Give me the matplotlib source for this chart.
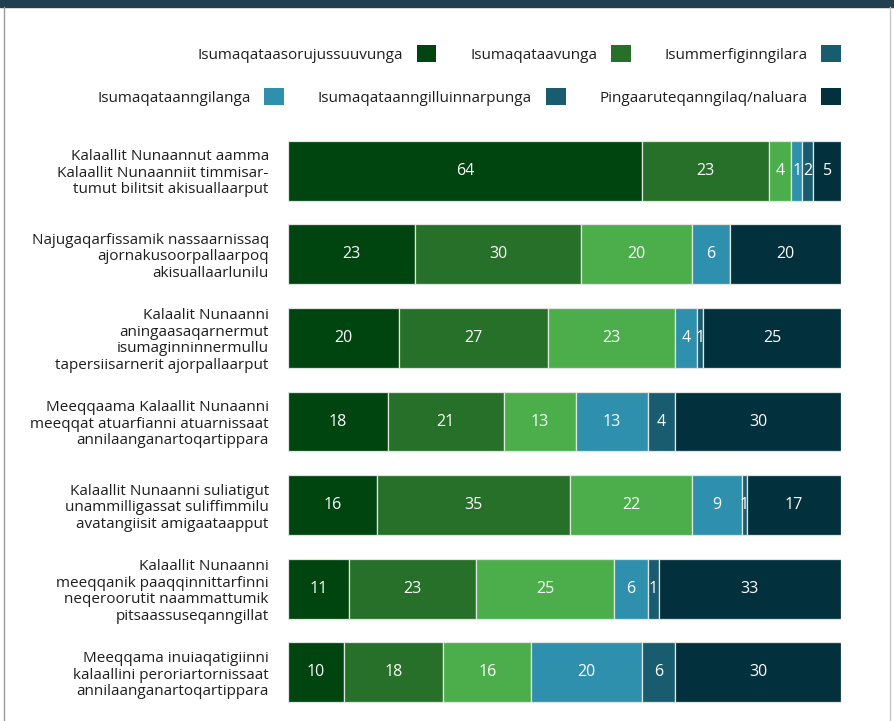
import matplotlib
matplotlib.use("Agg")
import matplotlib.pyplot as plt
from matplotlib.patches import Patch, Rectangle
from matplotlib.lines import Line2D
import numpy as np

categories = [
    "Kalaallit Nunaannut aamma\nKalaallit Nunaanniit timmisar-\ntumut bilitsit akisuallaarput",
    "Najugaqarfissamik nassaarnissaq\najornakusoorpallaarpoq\nakisuallaarlunilu",
    "Kalaalit Nunaanni\naningaasaqarnermut\nisumaginninnermullu\ntapersiisarnerit ajorpallaarput",
    "Meeqqaama Kalaallit Nunaanni\nmeeqqat atuarfianni atuarnissaat\nannilaanganartoqartippara",
    "Kalaallit Nunaanni suliatigut\nunammilligassat suliffimmilu\navatangiisit amigaataapput",
    "Kalaallit Nunaanni\nmeeqqanik paaqqinnittarfinni\nneqeroorutit naammattumik\npitsaassuseqanngillat",
    "Meeqqama inuiaqatigiinni\nkalaallini peroriartornissaat\nannilaanganartoqartippara",
]

series = [
    "Isumaqataasorujussuuvunga",
    "Isumaqataavunga",
    "Isummerfiginngilara",
    "Isumaqataanngilanga",
    "Isumaqataanngilluinnarpunga",
    "Pingaaruteqanngilaq/naluara",
]

# segment widths (%) per series, one entry per category
s1 = [64, 23, 20, 18, 16, 11, 10]
s2 = [23, 30, 27, 21, 35, 23, 18]
s3 = [4, 20, 23, 13, 22, 25, 16]
s4 = [2, 7, 4, 13, 9, 6, 20]
s5 = [2, 0, 1, 5, 1, 2, 6]
s6 = [5, 20, 25, 30, 17, 33, 30]

# printed labels
l1 = ["64", "23", "20", "18", "16", "11", "10"]
l2 = ["23", "30", "27", "21", "35", "23", "18"]
l3 = ["4", "20", "23", "13", "22", "25", "16"]
l4 = ["1", "6", "4", "13", "9", "6", "20"]
l5 = ["2", "", "1", "4", "1", "1", "6"]
l6 = ["5", "20", "25", "30", "17", "33", "30"]

values = [s1, s2, s3, s4, s5, s6]
labels = [l1, l2, l3, l4, l5, l6]

bar_colors = ["#00440f", "#267029", "#4bae4b", "#2f90ad", "#1a5c6f", "#03303d"]
legend_colors = ["#00440f", "#267029", "#1a5c6f", "#2f90ad", "#1a5c6f", "#03303d"]

FONT = "Open Sans"
plt.rcParams["font.family"] = [FONT, "DejaVu Sans"]

W, H = 894, 721
fig = plt.figure(figsize=(W / 100, H / 100), dpi=100)

# frame decorations
fig.patches.append(Rectangle((0, 1 - 7 / H), 1, 7 / H, transform=fig.transFigure,
                             color="#213f4e", zorder=0))
fig.lines.append(Line2D([3.5 / W, 3.5 / W], [0, 1 - 7 / H], transform=fig.transFigure,
                        color="#9a9a9a", lw=1))
fig.lines.append(Line2D([889.5 / W, 889.5 / W], [0, 1 - 7 / H], transform=fig.transFigure,
                        color="#c8c8c8", lw=1))

left, right = 288.3 / W, 841 / W
top_px, bot_px = 128.7, 714.3
ax = fig.add_axes([left, 1 - bot_px / H, right - left, (bot_px - top_px) / H])

y = np.arange(len(categories))
cum = np.zeros(len(categories))
for vals, labs, col in zip(values, labels, bar_colors):
    vals = np.array(vals, dtype=float)
    ax.barh(y, vals, left=cum, height=0.717, color=col,
            edgecolor="#dfe6e0", linewidth=0.9)
    for yi, (v, c, lab) in enumerate(zip(vals, cum, labs)):
        if v > 0 and lab:
            ax.text(c + v / 2, yi, lab, ha="center", va="center",
                    color="white", fontsize=11.5)
    cum += vals

ax.set_xlim(0, 100)
ax.set_ylim(len(categories) - 0.5, -0.5)
ax.set_yticks(y)
ax.set_yticklabels(categories, fontsize=11, color="#1e1e1e", linespacing=1.13)
ax.tick_params(axis="y", length=0, pad=14)
ax.set_xticks([])
for sp in ax.spines.values():
    sp.set_visible(False)
for t in ax.get_yticklabels():
    t.set_ha("right")
    t.set_multialignment("right")

handles = [Patch(facecolor=c, edgecolor="none") for c in legend_colors]
kw = dict(frameon=False, ncol=3, markerfirst=False, handlelength=1.3,
          handleheight=1.3, handletextpad=0.9, columnspacing=2.2,
          fontsize=11, borderpad=0, borderaxespad=0, loc="center right")
leg1 = fig.legend(handles[:3], series[:3], bbox_to_anchor=(841 / W, 1 - 54 / H), **kw)
leg2 = fig.legend(handles[3:], series[3:], bbox_to_anchor=(841 / W, 1 - 97 / H), **kw)
for lg in (leg1, leg2):
    for t in lg.get_texts():
        t.set_color("#1e1e1e")

fig.savefig("out.png", dpi=100)
